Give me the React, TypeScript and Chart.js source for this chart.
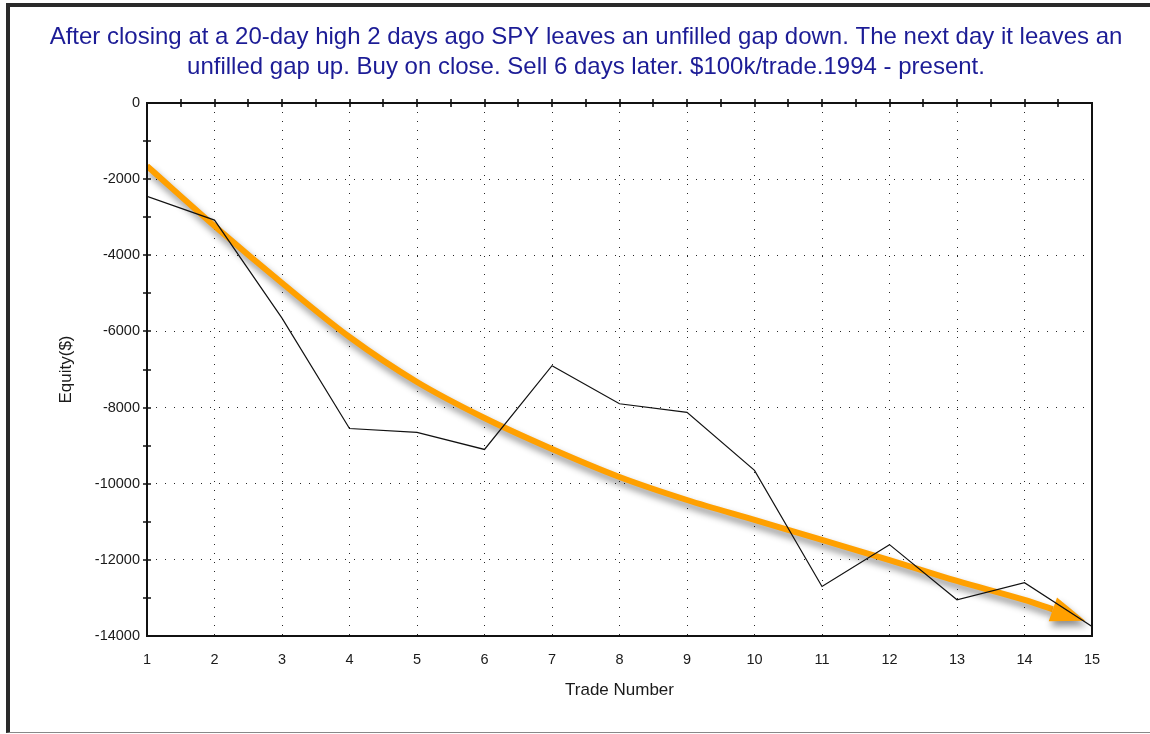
import React, { useEffect, useRef } from 'react';
import { Chart, registerables } from 'chart.js';

Chart.register(...registerables);

// ---------- data ----------
const TITLE_LINES = [
  'After closing at a 20-day high 2 days ago SPY leaves an unfilled gap down. The next day it leaves an',
  'unfilled gap up. Buy on close. Sell 6 days later. $100k/trade.1994 - present.',
];
const X_TITLE = 'Trade Number';
const Y_TITLE = 'Equity($)';

const TRADE_NUMBERS = [1, 2, 3, 4, 5, 6, 7, 8, 9, 10, 11, 12, 13, 14, 15];
const EQUITY = [-2450, -3075, -5650, -8550, -8650, -9100, -6900, -7900, -8125, -9650, -12700, -11600, -13050, -12600, -13750];

// hand-drawn orange trend arrow
const TREND_X = [1, 2, 3, 4, 5, 6, 7, 8, 9, 10, 11, 12, 13, 14, 14.42];
const TREND_Y = [-1655, -3231, -4728, -6146, -7328, -8274, -9088, -9823, -10428, -10953, -11478, -12004, -12555, -13054, -13300];
const TREND_TIP_X = 14.9;
const TREND_TIP_Y = -13600;

const X_MIN = 1;
const X_MAX = 15;
const Y_MIN = -14000;
const Y_MAX = 0;
const Y_LABEL_STEP = 2000;
const Y_MINOR_STEP = 1000;
const X_MINOR_STEP = 0.5;

const FONT = '"Liberation Sans", Arial, sans-serif';
const ORANGE = '#FFA000';

const shadowAndArrowPlugin = {
  id: 'shadowAndArrow',
  beforeDatasetDraw(chart: any, args: any) {
    if (args.index !== 1) return;
    const ctx = chart.ctx;
    ctx.save();
    ctx.shadowColor = 'rgba(0,0,0,0.45)';
    ctx.shadowBlur = 7;
    ctx.shadowOffsetX = 2;
    ctx.shadowOffsetY = 5;
  },
  afterDatasetDraw(chart: any, args: any) {
    if (args.index !== 1) return;
    const ctx = chart.ctx;
    const xs = chart.scales.x;
    const ys = chart.scales.y;
    const n = TREND_X.length - 1;
    const bx = xs.getPixelForValue(TREND_X[n]);
    const by = ys.getPixelForValue(TREND_Y[n]);
    const tx = xs.getPixelForValue(TREND_TIP_X);
    const ty = ys.getPixelForValue(TREND_TIP_Y);
    const dx = tx - bx;
    const dy = ty - by;
    const len = Math.hypot(dx, dy) || 1;
    const px = -dy / len;
    const py = dx / len;
    const half = 12.5;
    ctx.beginPath();
    ctx.moveTo(tx, ty);
    ctx.lineTo(bx + px * half, by + py * half);
    ctx.lineTo(bx - px * half, by - py * half);
    ctx.closePath();
    ctx.fillStyle = ORANGE;
    ctx.fill();
    ctx.restore();
  },
};

const framePlugin = {
  id: 'frame',
  afterDraw(chart: any) {
    const ctx = chart.ctx;
    const xs = chart.scales.x;
    const ys = chart.scales.y;
    const left = xs.getPixelForValue(X_MIN);
    const right = xs.getPixelForValue(X_MAX);
    const top = ys.getPixelForValue(Y_MAX);
    const bottom = ys.getPixelForValue(Y_MIN);
    ctx.save();
    ctx.strokeStyle = '#111';
    ctx.lineWidth = 2;
    ctx.strokeRect(left, top, right - left, bottom - top);
    ctx.lineWidth = 1.6;
    ctx.beginPath();
    for (let v = Y_MIN + Y_MINOR_STEP; v < Y_MAX; v += Y_MINOR_STEP) {
      const y = Math.round(ys.getPixelForValue(v));
      ctx.moveTo(left - 4, y);
      ctx.lineTo(left + 4, y);
    }
    for (let v = X_MIN + X_MINOR_STEP; v < X_MAX; v += X_MINOR_STEP) {
      const x = Math.round(xs.getPixelForValue(v));
      ctx.moveTo(x, top - 4);
      ctx.lineTo(x, top + 4);
    }
    ctx.stroke();
    ctx.restore();
  },
};

export default function App() {
  const ref = useRef<HTMLCanvasElement | null>(null);

  useEffect(() => {
    if (!ref.current) return;
    const chart = new Chart(ref.current, {
      type: 'line',
      data: {
        datasets: [
          {
            label: 'Equity',
            data: TRADE_NUMBERS.map((x, i) => ({ x, y: EQUITY[i] })),
            borderColor: '#111',
            borderWidth: 1.2,
            pointRadius: 0,
            tension: 0,
            fill: false,
          },
          {
            label: 'Trend',
            data: TREND_X.map((x, i) => ({ x, y: TREND_Y[i] })),
            borderColor: ORANGE,
            borderWidth: 6,
            pointRadius: 0,
            cubicInterpolationMode: 'monotone',
            fill: false,
          },
        ],
      },
      options: {
        animation: false,
        responsive: false,
        events: [],
        layout: { padding: { left: 22, right: 0, top: 0, bottom: 0 } },
        plugins: {
          legend: { display: false },
          tooltip: { enabled: false },
          title: {
            display: true,
            text: TITLE_LINES,
            color: '#1c1c96',
            font: { family: FONT, size: 24, weight: 'normal', lineHeight: 1.25 },
            padding: { top: 22, bottom: 21 },
          },
        },
        scales: {
          x: {
            type: 'linear',
            min: X_MIN,
            max: X_MAX,
            afterFit: (s: any) => { s.height = 98; },
            ticks: {
              stepSize: 1,
              autoSkip: false,
              color: '#1a1a1a',
              padding: 15,
              font: { family: FONT, size: 14.5 },
              callback: (v: any) => String(v),
            },
            grid: {
              drawTicks: false,
              lineWidth: 1,
              color: (c: any) => (c.tick && c.tick.value > X_MIN && c.tick.value < X_MAX ? 'rgba(0,0,0,0.85)' : 'rgba(0,0,0,0)'),
            },
            border: { display: false, dash: [1, 8] },
            title: {
              display: true,
              text: X_TITLE,
              color: '#1a1a1a',
              font: { family: FONT, size: 17 },
              padding: { top: 0, bottom: 33 },
            },
          },
          y: {
            type: 'linear',
            min: Y_MIN,
            max: Y_MAX,
            afterFit: (s: any) => { s.width = 125; },
            ticks: {
              stepSize: Y_MINOR_STEP,
              autoSkip: false,
              color: '#1a1a1a',
              padding: 7,
              font: { family: FONT, size: 14.5 },
              callback: (v: any) => (Number(v) % Y_LABEL_STEP === 0 ? String(v) : ''),
            },
            grid: {
              drawTicks: false,
              lineWidth: 1,
              color: (c: any) => {
                const v = c.tick ? c.tick.value : 0;
                return v % Y_LABEL_STEP === 0 && v > Y_MIN && v < Y_MAX ? 'rgba(0,0,0,0.85)' : 'rgba(0,0,0,0)';
              },
            },
            border: { display: false, dash: [1, 8] },
            title: {
              display: true,
              text: Y_TITLE,
              color: '#1a1a1a',
              font: { family: FONT, size: 17 },
              padding: { top: 34, bottom: 0 },
            },
          },
          yRight: {
            type: 'linear',
            position: 'right',
            display: true,
            afterFit: (s: any) => { s.width = 58; },
            ticks: { display: false },
            grid: { display: false },
            border: { display: false },
          },
        },
      },
      plugins: [shadowAndArrowPlugin, framePlugin],
    } as any);
    return () => chart.destroy();
  }, []);

  return (
    <div style={{ position: 'fixed', left: 0, top: 0, width: 1150, height: 734, background: '#fff', overflow: 'hidden' }}>
      <div
        style={{
          position: 'absolute',
          left: 6,
          top: 3,
          width: 1200,
          height: 725,
          borderLeft: '4px solid #2a2a2a',
          borderTop: '4px solid #2a2a2a',
          borderBottom: '1px solid #888',
        }}
      />
      <canvas ref={ref} width={1150} height={734} style={{ position: 'absolute', left: 0, top: 0, width: 1150, height: 734 }} />
    </div>
  );
}
